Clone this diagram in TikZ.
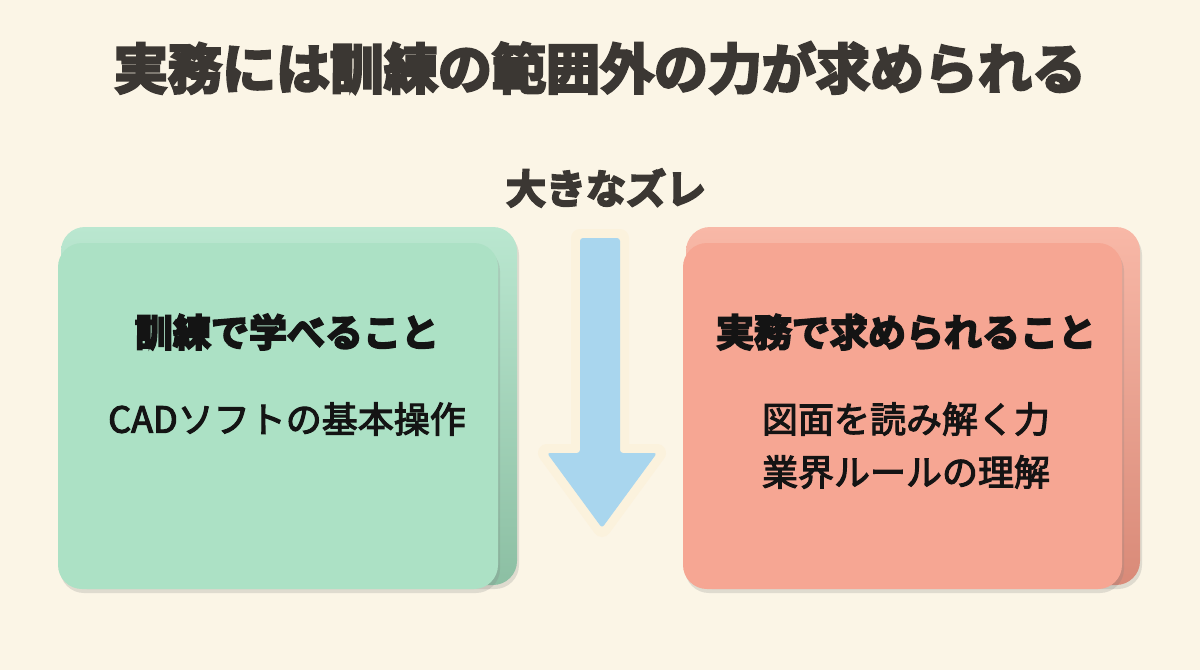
\documentclass[tikz,border=0pt]{standalone}
\usepackage{fontspec}
\usepackage{xcolor}
\usetikzlibrary{shadows}

\newfontfamily\jpbold{Noto Sans CJK JP}[UprightFont=* Bold, FakeBold=5]
\newfontfamily\jpmid{Noto Sans CJK JP}[FakeBold=3]

\definecolor{paper}{HTML}{FBF5E6}
\definecolor{ink}{HTML}{3B3733}
\definecolor{textdark}{HTML}{141414}
\definecolor{mintfront}{HTML}{ACE1C5}
\definecolor{minttop}{HTML}{BAE7D0}
\definecolor{mintbottom}{HTML}{8CBFA3}
\definecolor{salmonfront}{HTML}{F6A693}
\definecolor{salmontop}{HTML}{F8B8A7}
\definecolor{salmonbottom}{HTML}{D98A78}
\definecolor{skyblue}{HTML}{A9D6EE}
\definecolor{rim}{HTML}{FBF2DD}

\begin{document}
\begin{tikzpicture}[x=1pt,y=-1pt,
	card/.style={rounded corners=24pt, drop shadow={opacity=0.22,shadow xshift=2pt,shadow yshift=-4pt}},
	heading/.style={font=\jpbold\fontsize{38}{46}\selectfont, text=textdark},
	body/.style={font=\jpmid\fontsize{36}{44}\selectfont, text=textdark}]
	\fill[paper] (0,0) rectangle (1200,670);
	
	\node[font=\jpbold\fontsize{54}{62}\selectfont, text=ink] (title) at (600,68) {実務には訓練の範囲外の力が求められる};
	\node[font=\jpbold\fontsize{40}{46}\selectfont, text=ink] (gap) at (606,188) {大きなズレ};
	
	\shade[card, top color=minttop, bottom color=mintbottom] (61,227) rectangle (517,585);
	\fill[card, mintfront] (58,243) rectangle (498,589);
	
	\shade[card, top color=salmontop, bottom color=salmonbottom] (686,227) rectangle (1140,585);
	\fill[card, salmonfront] (683,243) rectangle (1122,589);
	
	\draw[rim, line width=18pt, line join=round, fill=rim, drop shadow={opacity=0.2,shadow xshift=2pt,shadow yshift=-4pt}]
		(580,238) -- (620,238) -- (620,453) -- (657,453) -- (602,528) -- (547,453) -- (580,453) -- cycle;
	\fill[skyblue, rounded corners=3pt]
		(580,238) -- (620,238) -- (620,453) -- (657,453) -- (602,528) -- (547,453) -- (580,453) -- cycle;
	
	\node[heading] (learnhead) at (287,332) {訓練で学べること};
	\node[body] (learnbody) at (287,419) {CADソフトの基本操作};
	
	\node[heading] (workhead) at (906,332) {実務で求められること};
	\node[body] (workbodyone) at (906,419) {図面を読み解く力};
	\node[body] (workbodytwo) at (906,472) {業界ルールの理解};
\end{tikzpicture}
\end{document}
